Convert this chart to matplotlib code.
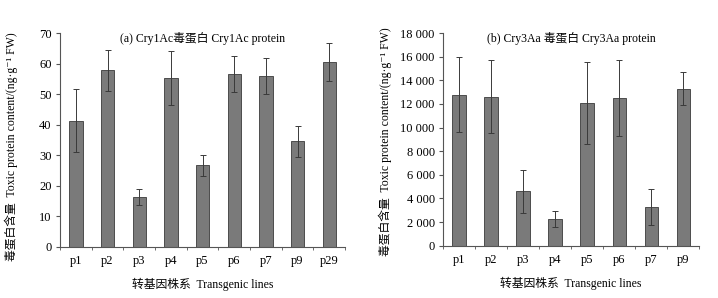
import matplotlib
matplotlib.use("Agg")
import matplotlib.pyplot as plt
from matplotlib.ticker import FixedLocator, FuncFormatter

plt.rcParams["font.family"] = ["Liberation Serif", "Noto Sans CJK SC", "DejaVu Serif"]
plt.rcParams["font.size"] = 8

# panel (a) Cry1Ac
lines_a = ["p1", "p2", "p3", "p4", "p5", "p6", "p7", "p9", "p29"]
mean_a = [41.3, 57.8, 16.3, 55.4, 26.7, 56.6, 55.8, 34.5, 60.5]
err_a = [10.3, 6.7, 2.7, 8.8, 3.5, 6.0, 5.9, 5.0, 6.1]

# panel (b) Cry3Aa
lines_b = ["p1", "p2", "p3", "p4", "p5", "p6", "p7", "p9"]
mean_b = [12800, 12600, 4600, 2260, 12100, 12500, 3300, 13300]
err_b = [3200, 3100, 1800, 700, 3450, 3200, 1530, 1400]

ylabel = "毒蛋白含量  Toxic protein content/(ng·g\u207b\u00b9 FW)"
xlabel = "转基因株系  Transgenic lines"

fig = plt.figure(figsize=(7.18, 2.98), dpi=100)
ax_a = fig.add_axes([0.0836, 0.172, 0.397, 0.717])
ax_b = fig.add_axes([0.617, 0.1755, 0.357, 0.7135])


def draw(ax, cats, vals, errs, ymax, step, title, fmt, label_x, label_y):
    xs = range(len(cats))
    ax.bar(xs, vals, width=0.42, color="#7a7a7a", edgecolor="#3a3a3a", linewidth=0.6)
    ax.errorbar(xs, vals, yerr=errs, fmt="none", ecolor="#3a3a3a",
                elinewidth=0.7, capsize=2.2, capthick=0.7)
    ax.set_xlim(-0.5, len(cats) - 0.5)
    ax.set_ylim(0, ymax)
    ax.set_xticks(list(xs))
    ax.set_xticklabels(cats, fontsize=9)
    ax.xaxis.set_minor_locator(FixedLocator([i + 0.5 for i in range(-1, len(cats))]))
    ax.tick_params(axis="x", which="major", length=0, pad=6)
    ax.tick_params(axis="x", which="minor", length=2.5, direction="out", color="#555555")
    ax.set_yticks(range(0, ymax + 1, step))
    ax.yaxis.set_major_formatter(FuncFormatter(fmt))
    ax.tick_params(axis="y", length=3, direction="out", color="#555555", labelsize=9, pad=3)
    for s in ["top", "right"]:
        ax.spines[s].set_visible(False)
    for s in ["left", "bottom"]:
        ax.spines[s].set_color("#555555")
        ax.spines[s].set_linewidth(0.8)
    ax.text(0.5, 0.975, title, transform=ax.transAxes, ha="center", va="center", fontsize=8.5)
    ax.set_ylabel(ylabel, fontsize=8.5)
    ax.yaxis.set_label_coords(label_x, label_y)
    ax.set_xlabel(xlabel, fontsize=8.5, labelpad=8)


draw(ax_a, lines_a, mean_a, err_a, 70, 10, "(a) Cry1Ac毒蛋白 Cry1Ac protein",
     lambda v, p: f"{int(v)}", -0.147, 0.47)
draw(ax_b, lines_b, mean_b, err_b, 18000, 2000, "(b) Cry3Aa 毒蛋白 Cry3Aa protein",
     lambda v, p: f"{int(v):,}".replace(",", " "), -0.2, 0.49)

fig.savefig("out.png", dpi=100)
